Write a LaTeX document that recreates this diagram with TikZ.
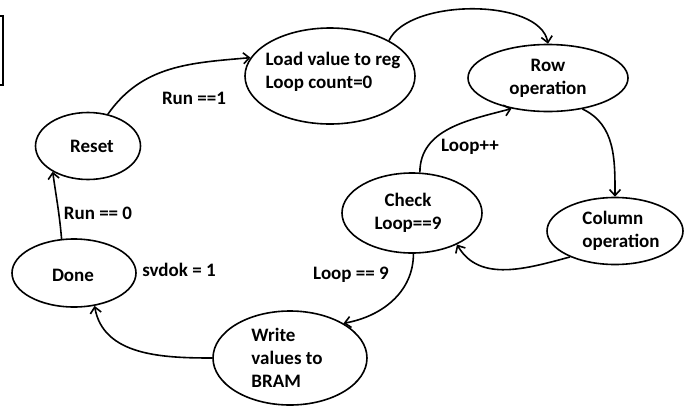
\documentclass[tikz,border=0pt]{standalone}
\usepackage{fontspec}
\setmainfont{Carlito}
\usetikzlibrary{shapes.geometric,arrows.meta}
\begin{document}
\begin{tikzpicture}[x=1pt,y=1pt,
  st/.style={ellipse,draw,line width=1.6pt,inner sep=0pt},
  txt/.style={font=\fontsize{19}{23}\selectfont\bfseries,inner sep=0pt},
  lbl/.style={font=\fontsize{19}{23}\selectfont\bfseries,inner sep=0pt},
  edge/.style={line width=1.6pt,-{Straight Barb[length=6pt,width=11pt,line width=1.6pt]}}]
\useasboundingbox (0,0) rectangle (691,-405);
% partial box at top left
\draw[line width=1.6pt] (0,-16) -- (3,-16) -- (3,-85) -- (0,-85);
% states
\node[st,minimum width=170pt,minimum height=96pt] (load) at (330,-76) {};
\node[txt,align=left] at (333,-72) {Load value to reg\\Loop count=0};
\node[st,minimum width=160pt,minimum height=67pt] (row) at (548,-78) {};
\node[txt,align=center] at (548,-78) {Row\\operation};
\node[st,minimum width=105pt,minimum height=67pt] (reset) at (88,-146) {};
\node[txt] at (92,-146) {Reset};
\node[st,minimum width=124pt,minimum height=68pt] (done) at (74,-273) {};
\node[txt] at (73,-275) {Done};
\node[st,minimum width=140pt,minimum height=80pt] (check) at (412,-213) {};
\node[txt,align=center] at (408,-213) {Check\\Loop==9};
\node[st,minimum width=136pt,minimum height=67pt] (col) at (615,-231) {};
\node[txt,align=left] at (621,-231) {Column\\operation};
\node[st,minimum width=154pt,minimum height=94pt] (write) at (290,-358) {};
\node[txt,align=left] at (287,-358) {Write\\values to\\BRAM};
% transitions
\draw[edge] (done.110) to[out=95,in=-82] (reset.216);
\draw[edge] (reset.58) to[out=55,in=185] (load.167);
\draw[edge] (load.31) to[out=65,in=100,looseness=0.75] (row.90);
\draw[edge] (row.-42) to[out=-25,in=90] (col.90);
\draw[edge] (col.210) to[out=195,in=-60] (check.-35);
\draw[edge] (check.79) to[out=90,in=195] (row.220);
\draw[edge] (check.-88) to[out=-90,in=10] (write.33);
\draw[edge] (write.180) to[out=180,in=-80] (done.-58);
% labels
\node[lbl] (l1) at (194,-98) {Run ==1};
\node[lbl] (l2) at (98,-213) {Run == 0};
\node[lbl] (l3) at (179,-270) {svdok = 1};
\node[lbl] (l4) at (351,-275) {Loop == 9};
\node[lbl] (l5) at (470,-147) {Loop++};
\end{tikzpicture}
\end{document}
